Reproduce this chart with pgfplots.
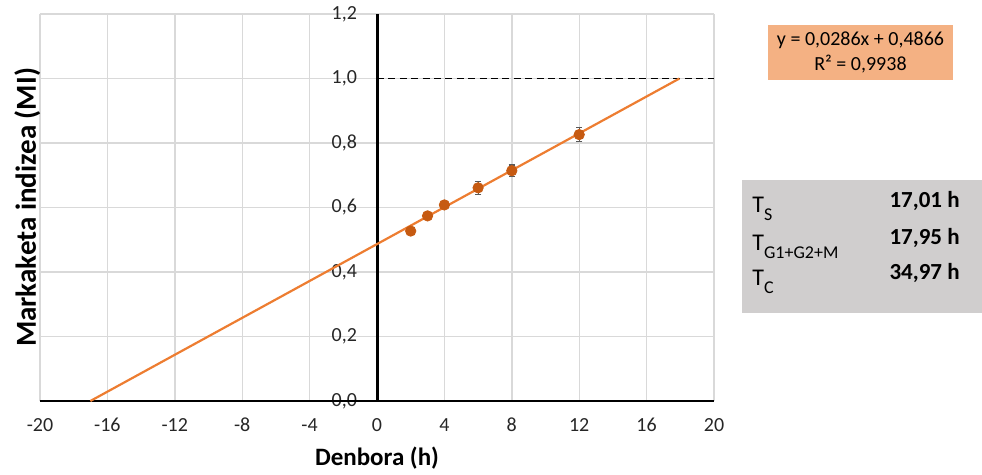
\documentclass[border=0pt]{standalone}
\usepackage{pgfplots}
\pgfplotsset{compat=1.18}
\usepackage{fontspec}
\setmainfont{Carlito}
\definecolor{lineorange}{HTML}{ED7D31}
\definecolor{dotorange}{HTML}{C65A11}
\definecolor{eqorange}{HTML}{F4B183}
\definecolor{boxgray}{HTML}{D0CECE}
\definecolor{gridgray}{HTML}{D9D9D9}
\begin{document}
\begin{tikzpicture}
\path[use as bounding box] (-20bp,-37bp) rectangle (471bp,200.5bp);
\begin{axis}[
  at={(0,0)}, anchor=south west,
  scale only axis, width=337bp, height=193.5bp,
  xmin=-20, xmax=20, ymin=0, ymax=1.2,
  xtick={-20,-16,-12,-8,-4,0,4,8,12,16,20},
  ytick={0,0.2,0.4,0.6,0.8,1.0,1.2},
  grid=major, grid style={gridgray, line width=0.7bp},
  axis line style={draw=none},
  major tick length=0pt,
  clip=false,
  /pgf/number format/assume math mode=true,
  tick label style={font=\fontsize{10bp}{12bp}\selectfont, text=black!85},
  yticklabel style={/pgf/number format/use comma, /pgf/number format/fixed,
    /pgf/number format/fixed zerofill, /pgf/number format/precision=1,
    anchor=east, xshift=162bp},
  xticklabel style={anchor=base, yshift=-15.4bp},
  xlabel={\textbf{Denbora (h)}},
  ylabel={\textbf{Markaketa indizea (MI)}},
  xlabel style={font=\fontsize{12.5bp}{14bp}\selectfont,
    at={(axis description cs:0.5,-0.1654)}, anchor=base},
  ylabel style={font=\fontsize{14.5bp}{16bp}\selectfont,
    at={(axis description cs:-0.019,0.5)}, anchor=center},
]
\addplot[black, line width=1.2bp] coordinates {(-20,0) (20,0)};
\addplot[black, line width=1.5bp] coordinates {(0,0) (0,1.2)};
\addplot[black, dash pattern=on 3.5bp off 2.2bp, line width=0.8bp] coordinates {(0,1) (20,1)};
\addplot[lineorange, line width=1.1bp] coordinates {(-17.01,0) (17.95,1)};
\addplot[only marks, mark=*, mark size=2.6bp, dotorange,
  error bars/.cd, y dir=both, y explicit,
  error bar style={black!65, line width=0.6bp},
  error mark options={rotate=90, mark size=1.6bp, black!65, line width=0.6bp}]
  coordinates {
    (2,0.527) +- (0,0.006)
    (3,0.574) +- (0,0.006)
    (4,0.608) +- (0,0.008)
    (6,0.661) +- (0,0.020)
    (8,0.714) +- (0,0.018)
    (12,0.826) +- (0,0.022)
  };
\end{axis}
\node[fill=eqorange, minimum width=92.5bp, minimum height=27.5bp, inner sep=0pt,
  align=center, font=\fontsize{10bp}{12.5bp}\selectfont] at (410.25bp,174.25bp)
  {y = 0,0286x + 0,4866\\R² = 0,9938};
\fill[boxgray] (351bp,44bp) rectangle (471bp,110.5bp);
\begin{scope}[every node/.style={font=\fontsize{12bp}{13bp}\selectfont, inner sep=0pt}]
\node[anchor=base west] at (356bp,94.4bp) {T\raisebox{-0.33em}{\fontsize{9bp}{10bp}\selectfont S}};
\node[anchor=base west] at (356bp,75.4bp) {T\raisebox{-0.33em}{\fontsize{9bp}{10bp}\selectfont G1+G2+M}};
\node[anchor=base west] at (356bp,57.9bp) {T\raisebox{-0.33em}{\fontsize{9bp}{10bp}\selectfont C}};
\node[anchor=base east, font=\fontsize{11.5bp}{13bp}\selectfont\bfseries] at (460bp,96.5bp) {17,01 h};
\node[anchor=base east, font=\fontsize{11.5bp}{13bp}\selectfont\bfseries] at (460bp,78bp) {17,95 h};
\node[anchor=base east, font=\fontsize{11.5bp}{13bp}\selectfont\bfseries] at (460bp,60.5bp) {34,97 h};
\end{scope}
\end{tikzpicture}
\end{document}
